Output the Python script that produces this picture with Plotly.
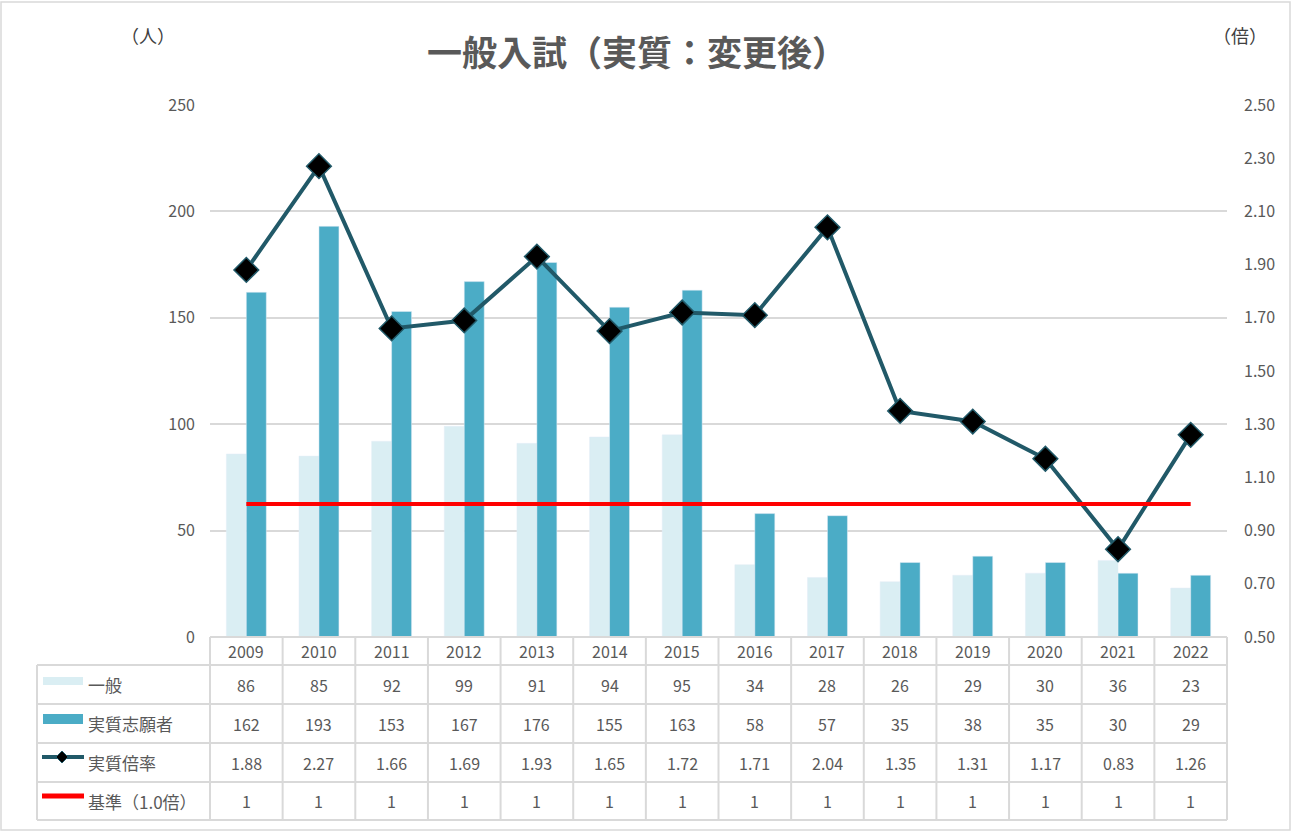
import plotly.graph_objects as go

years = ["2009", "2010", "2011", "2012", "2013", "2014", "2015",
         "2016", "2017", "2018", "2019", "2020", "2021", "2022"]
ippan = [86, 85, 92, 99, 91, 94, 95, 34, 28, 26, 29, 30, 36, 23]
shigan = [162, 193, 153, 167, 176, 155, 163, 58, 57, 35, 38, 35, 30, 29]
bairitsu = [1.88, 2.27, 1.66, 1.69, 1.93, 1.65, 1.72, 1.71, 2.04, 1.35, 1.31, 1.17, 0.83, 1.26]
kijun = [1] * 14

series_names = ["一般", "実質志願者", "実質倍率", "基準（1.0倍）"]

W, H = 1292, 832
L, R, T, B = 210, 1227, 105, 637
PW, PH = R - L, B - T

def px(x):
    return (x - L) / PW

def py(y):
    return (B - y) / PH

FONT = "Noto Sans CJK JP"
GRAY = "#595959"
GRID = "#D9D9D9"
LIGHT = "#DAEEF3"
DARK = "#4BACC6"
LINE = "#215968"
RED = "#FF0000"

fig = go.Figure()
fig.add_trace(go.Bar(x=years, y=ippan, name=series_names[0], marker_color=LIGHT))
fig.add_trace(go.Bar(x=years, y=shigan, name=series_names[1], marker_color=DARK))
fig.add_trace(go.Scatter(x=years, y=bairitsu, name=series_names[2], yaxis="y2",
                         mode="lines+markers",
                         line=dict(color=LINE, width=4),
                         marker=dict(symbol="diamond", size=19, color="black",
                                     line=dict(color=LINE, width=1.5))))
fig.add_trace(go.Scatter(x=years, y=kijun, name=series_names[3], yaxis="y2",
                         mode="lines", line=dict(color=RED, width=4)))

shapes = []
ann = []

# outer border
shapes.append(dict(type="rect", xref="paper", yref="paper",
                   x0=px(1), x1=px(1290), y0=py(830), y1=py(2),
                   line=dict(color="#D9D9D9", width=1.5), layer="below"))

# table grid
row_y = [637, 665, 704, 743, 782, 820]
tcol = "#D9D9D9"
shapes.append(dict(type="line", xref="paper", yref="paper", x0=0, x1=1,
                   y0=py(row_y[0]), y1=py(row_y[0]), line=dict(color=tcol, width=2)))
for yy in row_y[1:]:
    shapes.append(dict(type="line", xref="paper", yref="paper", x0=px(37), x1=1,
                       y0=py(yy), y1=py(yy), line=dict(color=tcol, width=2)))
for i in range(15):
    shapes.append(dict(type="line", xref="paper", yref="paper", x0=i / 14, x1=i / 14,
                       y0=py(row_y[0]), y1=py(row_y[-1]), line=dict(color=tcol, width=2)))
shapes.append(dict(type="line", xref="paper", yref="paper", x0=px(37), x1=px(37),
                   y0=py(row_y[1]), y1=py(row_y[-1]), line=dict(color=tcol, width=2)))

# table text
centers = [(row_y[k] + row_y[k + 1]) / 2 for k in range(5)]
rows = [years, [str(v) for v in ippan], [str(v) for v in shigan],
        [f"{v:.2f}" for v in bairitsu], [str(v) for v in kijun]]
for r, vals in enumerate(rows):
    for i, v in enumerate(vals):
        ann.append(dict(xref="paper", yref="paper", x=(i + 0.5) / 14, y=py(centers[r]),
                        text=v, showarrow=False, xanchor="center", yanchor="middle",
                        font=dict(family=FONT, size=16, color=GRAY)))
for r, name in enumerate(series_names):
    ann.append(dict(xref="paper", yref="paper", x=px(86), y=py(centers[r + 1]),
                    text=name, showarrow=False, xanchor="left", yanchor="middle",
                    font=dict(family=FONT, size=17, color=GRAY)))

# legend keys
shapes.append(dict(type="rect", xref="paper", yref="paper", x0=px(43), x1=px(83),
                   y0=py(685), y1=py(677), fillcolor=LIGHT, line=dict(width=0)))
shapes.append(dict(type="rect", xref="paper", yref="paper", x0=px(43), x1=px(83),
                   y0=py(724), y1=py(714), fillcolor=DARK, line=dict(width=0)))
shapes.append(dict(type="line", xref="paper", yref="paper", x0=px(42), x1=px(84),
                   y0=py(757), y1=py(757), line=dict(color=LINE, width=4)))
cx, cy, d = 62, 757, 6
shapes.append(dict(type="path", xref="paper", yref="paper",
                   path=f"M {px(cx - d)} {py(cy)} L {px(cx)} {py(cy - d)} L {px(cx + d)} {py(cy)} L {px(cx)} {py(cy + d)} Z",
                   fillcolor="black", line=dict(color=LINE, width=1)))
shapes.append(dict(type="line", xref="paper", yref="paper", x0=px(42), x1=px(84),
                   y0=py(796), y1=py(796), line=dict(color=RED, width=5)))

# title and unit labels
ann.append(dict(xref="paper", yref="paper", x=px(637), y=py(50), text="<b>一般入試（実質：変更後）</b>",
                showarrow=False, xanchor="center", yanchor="middle",
                font=dict(family=FONT, size=35, color=GRAY)))
ann.append(dict(xref="paper", yref="paper", x=px(148), y=py(35), text="（人）",
                showarrow=False, xanchor="center", yanchor="middle",
                font=dict(family=FONT, size=18, color="#404040")))
ann.append(dict(xref="paper", yref="paper", x=px(1240), y=py(35), text="（倍）",
                showarrow=False, xanchor="center", yanchor="middle",
                font=dict(family=FONT, size=18, color="#404040")))

fig.update_layout(
    width=W, height=H,
    margin=dict(l=L, r=W - R, t=T, b=H - B, pad=0),
    paper_bgcolor="white", plot_bgcolor="white",
    barmode="group", bargap=0.45, bargroupgap=0,
    showlegend=False,
    shapes=shapes, annotations=ann,
    xaxis=dict(type="category", range=[-0.5, 13.5], showticklabels=False,
               showgrid=False, zeroline=False, showline=False, ticks=""),
    yaxis=dict(range=[0, 250], dtick=50, showgrid=True, gridcolor=GRID, gridwidth=1.5,
               zeroline=False, showline=False, ticks="",
               tickfont=dict(family=FONT, size=16, color=GRAY), ticklabelstandoff=14),
    yaxis2=dict(range=[0.5, 2.5], tick0=0.5, dtick=0.2, tickformat=".2f",
                overlaying="y", side="right", showgrid=False, zeroline=False,
                showline=False, ticks="",
                tickfont=dict(family=FONT, size=16, color=GRAY), ticklabelstandoff=16),
)

fig.write_html("out.html")
